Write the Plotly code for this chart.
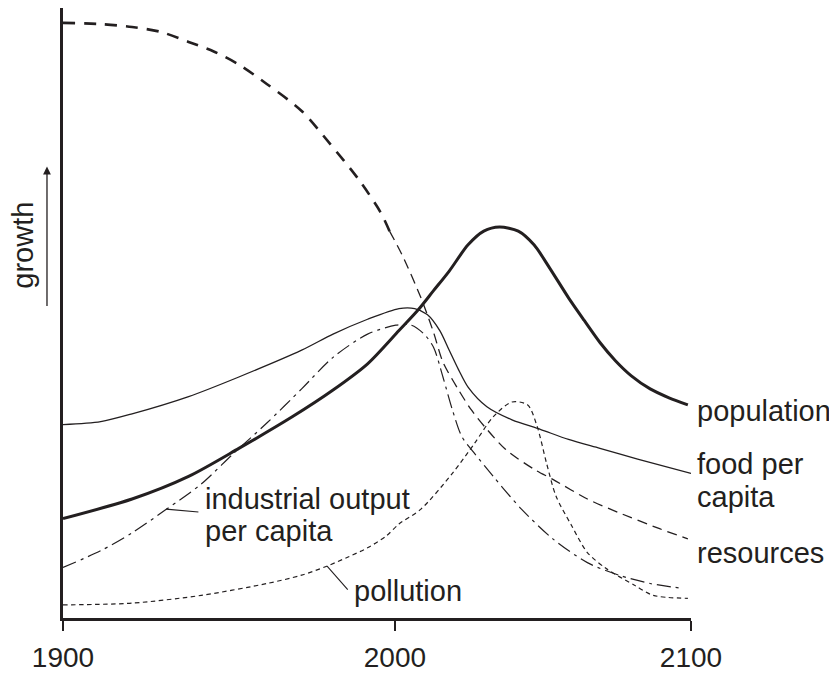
import plotly.graph_objects as go

# ---- data ----
res_years = [1900, 1912, 1922, 1931, 1940, 1948, 1956, 1965, 1976, 1985, 1994, 2001, 2004,
             2008, 2014, 2018, 2021, 2026, 2030, 2035, 2041, 2050, 2056, 2067, 2077, 2090, 2099]
res_vals = [100, 99.8, 99.3, 98.5, 96.8, 95.2, 93, 89.7, 85.2, 79.7, 73.8, 68.3, 65,
            61, 53.8, 48, 43, 38.3, 35, 31.7, 28.3, 25, 23.3, 20, 17.7, 15, 13.3]
res_split = 12  # thick (historical) part ends here

pop_years = [1900, 1922, 1940, 1956, 1973, 1986, 1997, 2007, 2013, 2018, 2023, 2029, 2034,
             2039, 2045, 2050, 2055, 2061, 2066, 2071, 2076, 2081, 2087, 2093, 2099]
pop_vals = [16.7, 20, 23.8, 28.5, 33.8, 38.3, 42.7, 48.3, 51.7, 55, 58.3, 62.7, 65,
            65.7, 65, 62.7, 58.8, 53.8, 50, 46.3, 43.2, 40.7, 38.5, 37, 35.8]

food_years = [1900, 1912, 1922, 1940, 1956, 1976, 1986, 1997, 2007, 2012, 2016, 2020, 2023,
              2026, 2029, 2035, 2043, 2052, 2061, 2071, 2083, 2100]
food_vals = [32.5, 33.0, 34.3, 37.2, 40.5, 45.0, 47.7, 50.2, 52, 52, 51, 48.3, 45,
             41.7, 38.8, 35.5, 33.3, 31.7, 30, 28.5, 26.7, 24.3]

ind_years = [1900, 1912, 1922, 1933, 1944, 1954, 1965, 1976, 1986, 1997, 2006, 2011, 2015,
             2018, 2021, 2024, 2027, 2031, 2037, 2046, 2056, 2067, 2077, 2087, 2097]
ind_vals = [8.5, 11.3, 14.3, 18.3, 22.5, 27.5, 32.8, 38.5, 43.8, 47.7, 49.2, 49.2, 47.7,
            45.5, 40.5, 35, 30.5, 27.7, 23.8, 18.3, 13.3, 9.3, 7.2, 5.8, 5]

pol_years = [1900, 1922, 1944, 1965, 1976, 1984, 1991, 1997, 2003, 2007, 2014, 2024, 2031,
             2037, 2043, 2048, 2051, 2054, 2057, 2062, 2067, 2073, 2082, 2088, 2099]
pol_vals = [2.2, 2.5, 3.8, 5.8, 7.2, 8.7, 10.3, 11.8, 13.8, 15.8, 18.3, 24.3, 29.3,
            33.8, 36.3, 35.8, 32.2, 26, 20.5, 15.5, 11, 8.3, 5.5, 3.8, 3.3]

tick_vals = [1900, 2005.7, 2100]
tick_text = ["1900", "2000", "2100"]

INK = "#231f20"
FONT = "Liberation Sans, Arial, Helvetica, sans-serif"

fig = go.Figure()

def add_line(x, y, width, dash):
    fig.add_trace(go.Scatter(x=x, y=y, mode="lines", hoverinfo="skip",
                             line=dict(color=INK, width=width, dash=dash,
                                       shape="spline", smoothing=0.8)))

add_line(res_years[:res_split + 1], res_vals[:res_split + 1], 2.6, "12px,9px")
add_line(res_years[res_split:], res_vals[res_split:], 1.3, "10px,6px")
add_line(ind_years, ind_vals, 1.2, "14px,5px,3px,5px")
add_line(pol_years, pol_vals, 1.2, "4.5px,3.5px")
add_line(food_years, food_vals, 1.3, "solid")
add_line(pop_years, pop_vals, 3, "solid")

lf = dict(family=FONT, size=29, color=INK)
tf = dict(family=FONT, size=28, color=INK)

def label(text, x, y, xref="paper", yref="paper", **kw):
    d = dict(xref=xref, yref=yref, x=x, y=y, text=text, xanchor="left",
             yanchor="middle", showarrow=False, font=lf)
    d.update(kw)
    return d

ann = []
# right side labels (paper coords; plot area is 628 x 615 px)
ann.append(label("population", 1.0064, 0.339))
ann.append(label("food per", 1.0064, 0.252))
ann.append(label("capita", 1.0064, 0.199))
ann.append(label("resources", 1.0064, 0.106))
# inner labels
ann.append(label("industrial output", 1944.6, 20.0, "x", "y"))
ann.append(label("per capita", 1944.6, 14.7, "x", "y"))
ann.append(label("pollution", 1992.0, 4.5, "x", "y"))
# leader lines
ann.append(dict(xref="x", yref="y", axref="x", ayref="y", x=1932.8, y=18.3,
                ax=1943.6, ay=17.8, text="", showarrow=True, arrowhead=0,
                arrowwidth=1.1, arrowcolor=INK, standoff=0, startstandoff=0))
ann.append(dict(xref="x", yref="y", axref="x", ayref="y", x=1984.1, y=8.7,
                ax=1991.1, ay=4.5, text="", showarrow=True, arrowhead=0,
                arrowwidth=1.1, arrowcolor=INK, standoff=0, startstandoff=0))
# growth label and arrow
ann.append(dict(xref="paper", yref="paper", x=-0.0637, y=0.612, text="growth",
                textangle=-90, xanchor="center", yanchor="middle", showarrow=False, font=lf))
ann.append(dict(xref="paper", yref="paper", x=-0.0255, y=0.740, ax=0, ay=141,
                text="", showarrow=True, arrowhead=2, arrowsize=1.2,
                arrowwidth=1.3, arrowcolor=INK, standoff=0))

# page body has an 8px default margin, so the figure is 8px smaller than the window
fig.update_layout(
    width=829, height=665,
    margin=dict(l=55, r=146, t=0, b=50),
    paper_bgcolor="white", plot_bgcolor="white",
    showlegend=False,
    annotations=ann,
    font=dict(family=FONT, color=INK),
    xaxis=dict(range=[1900, 2100], showgrid=False, zeroline=False,
               showline=True, linecolor=INK, linewidth=2.5,
               ticks="outside", ticklen=10, tickwidth=2, tickcolor=INK,
               ticklabelstandoff=3,
               tickvals=tick_vals, ticktext=tick_text, tickfont=tf),
    yaxis=dict(range=[0, 102.5], showgrid=False, zeroline=False,
               showline=True, linecolor=INK, linewidth=2.5,
               showticklabels=False, ticks=""),
)

fig.write_html("out.html")
